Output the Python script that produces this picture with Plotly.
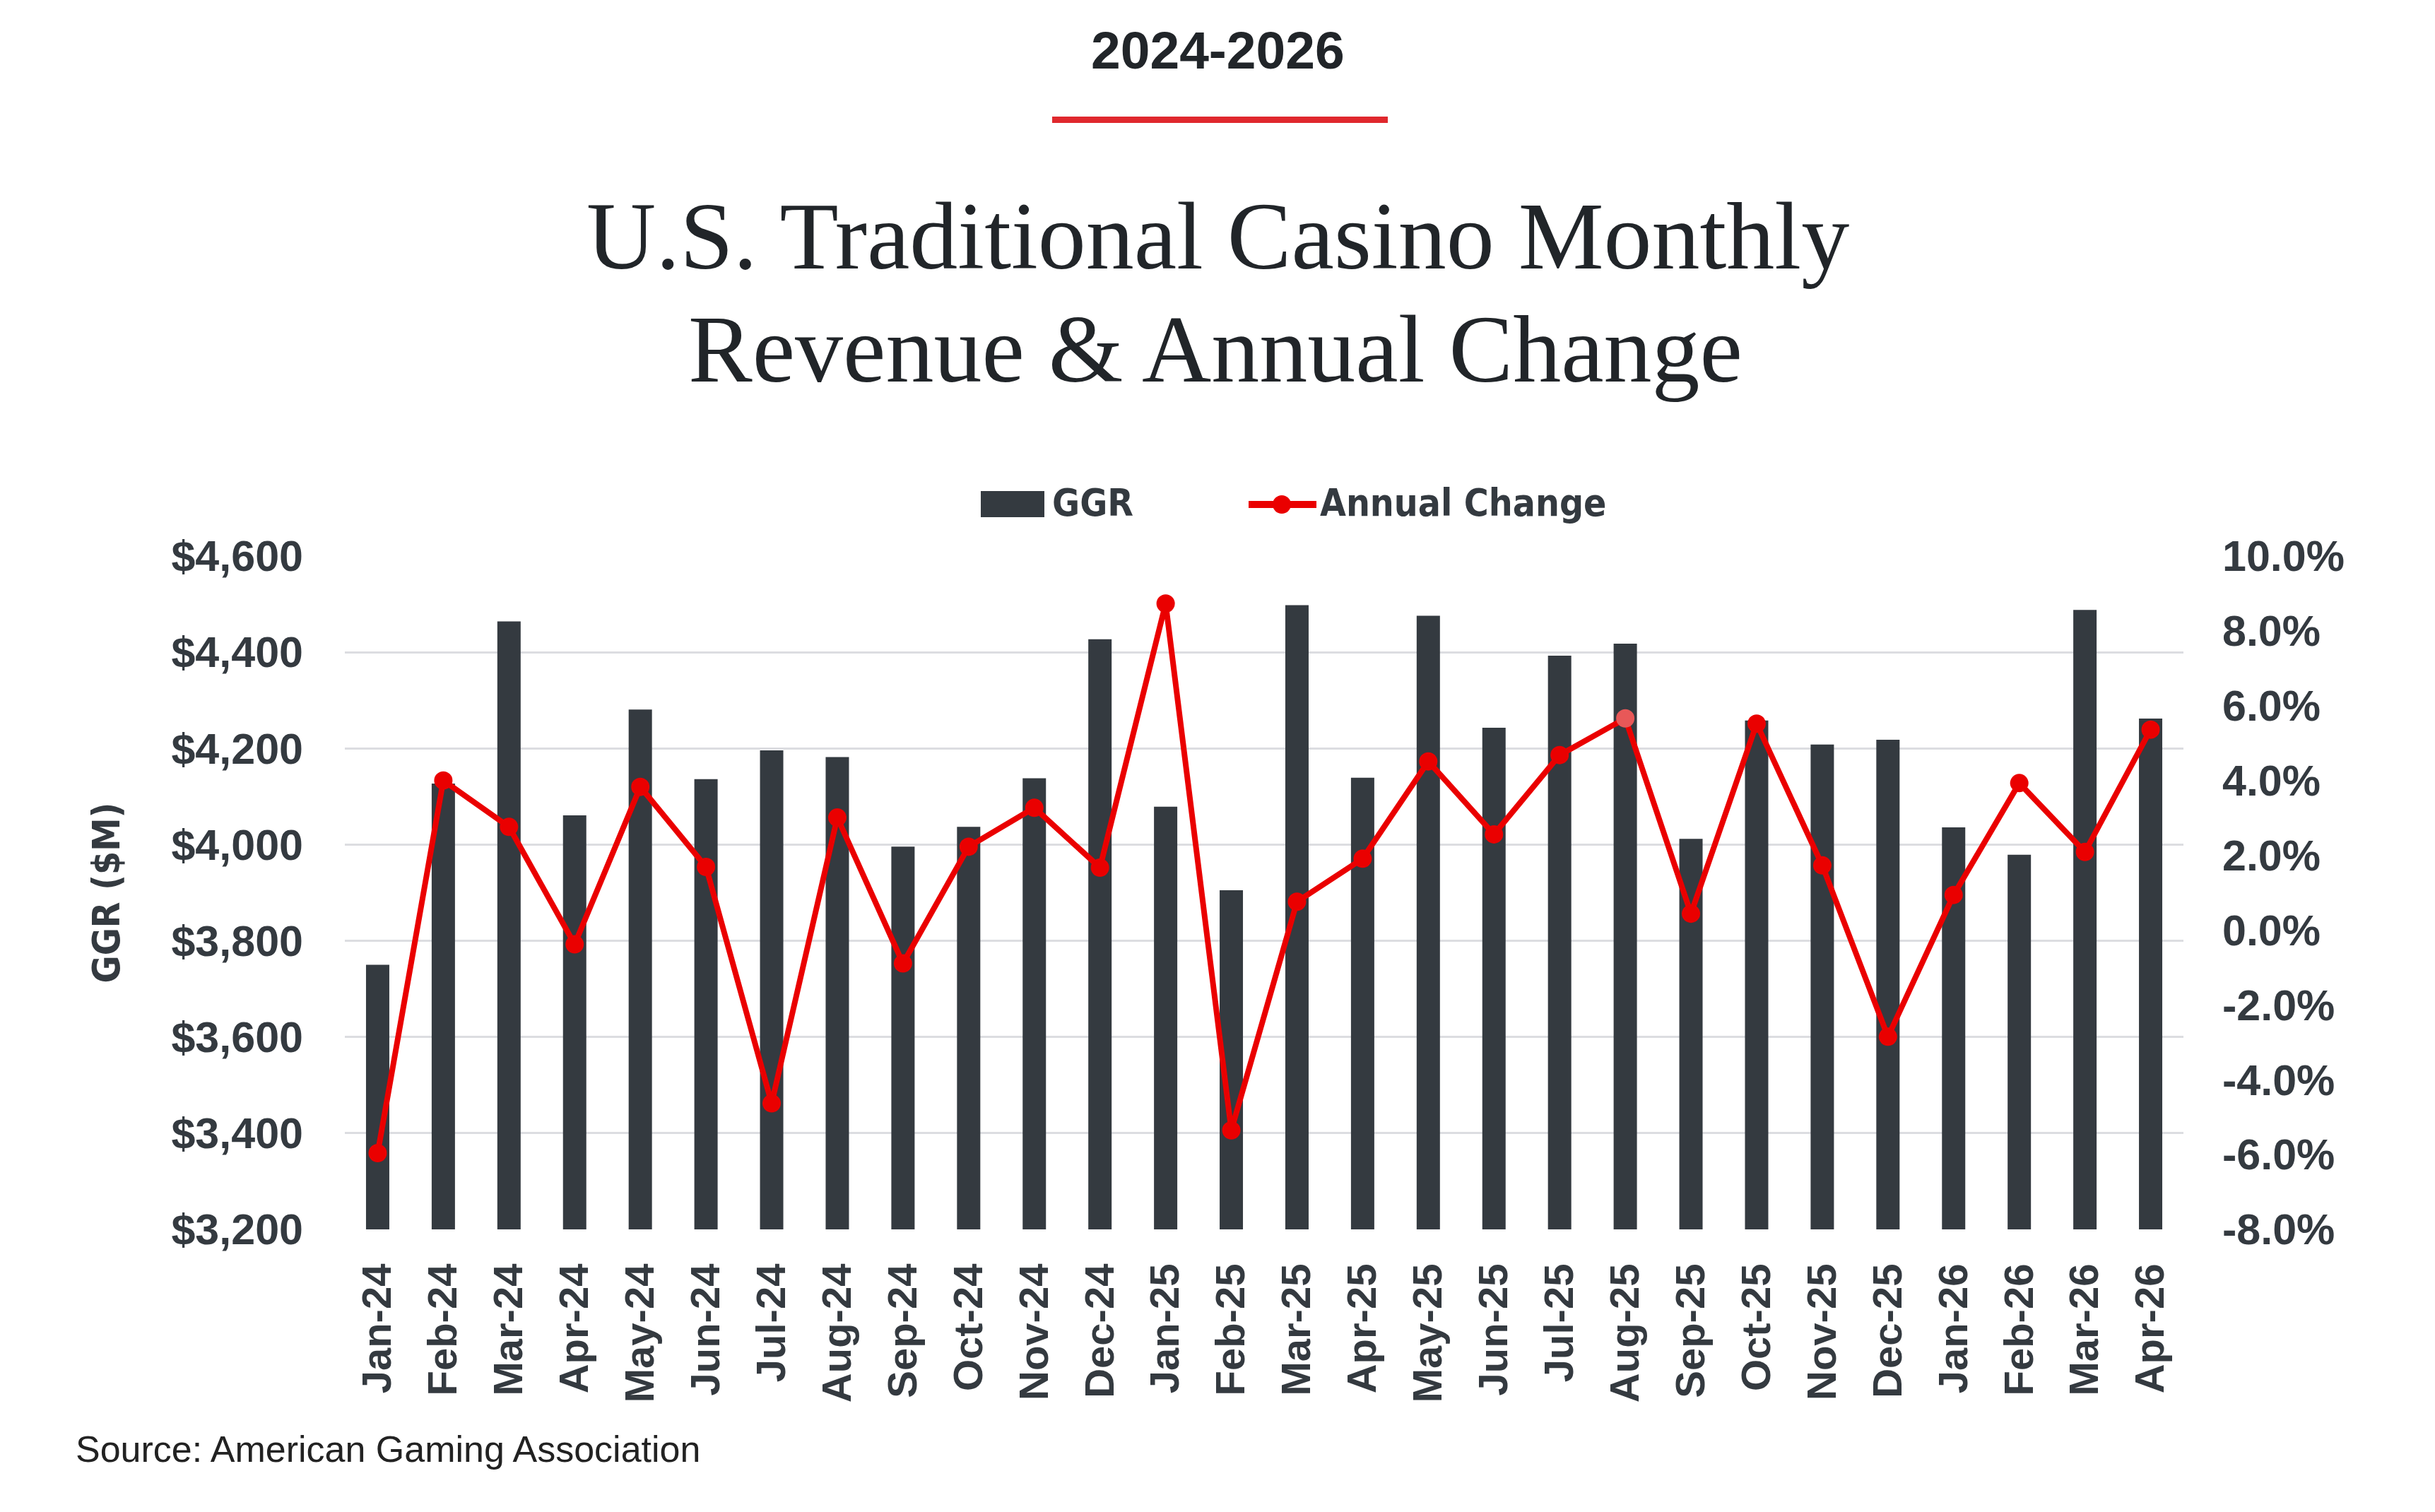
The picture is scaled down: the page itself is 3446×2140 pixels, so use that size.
import plotly.graph_objects as go

# ---------------- data ----------------
months = ["Jan-24", "Feb-24", "Mar-24", "Apr-24", "May-24", "Jun-24", "Jul-24",
          "Aug-24", "Sep-24", "Oct-24", "Nov-24", "Dec-24", "Jan-25", "Feb-25",
          "Mar-25", "Apr-25", "May-25", "Jun-25", "Jul-25", "Aug-25", "Sep-25",
          "Oct-25", "Nov-25", "Dec-25", "Jan-26", "Feb-26", "Mar-26", "Apr-26"]
ggr = [3750, 4127, 4464, 4061, 4281, 4136, 4196, 4182, 3996, 4037, 4138, 4427,
       4079, 3905, 4498, 4139, 4476, 4243, 4393, 4418, 4012, 4258, 4208, 4218,
       4036, 3979, 4488, 4262]
annual_change = [-5.96, 4.00, 2.76, -0.38, 3.83, 1.69, -4.63, 3.01, -0.89, 2.23,
                 3.27, 1.67, 8.73, -5.35, 0.76, 1.91, 4.51, 2.56, 4.68, 5.66,
                 0.44, 5.52, 1.73, -2.85, 0.94, 3.93, 2.09, 5.36]
left_tick_vals = [3200, 3400, 3600, 3800, 4000, 4200, 4400, 4600]
left_tick_text = ["$3,200", "$3,400", "$3,600", "$3,800", "$4,000", "$4,200", "$4,400", "$4,600"]
right_tick_vals = [-8, -6, -4, -2, 0, 2, 4, 6, 8, 10]
right_tick_text = ["-8.0%", "-6.0%", "-4.0%", "-2.0%", "0.0%", "2.0%", "4.0%", "6.0%", "8.0%", "10.0%"]

# ---------------- style ----------------
W, H = 3446, 2140
L, R, T, B = 488, 3090, 787, 1740
BAR = "#343a40"
RED = "#EA0000"
TXT = "#343a40"
GRID = "#dcdde1"
SANS = "Liberation Sans, Arial, sans-serif"
NARROW = "Liberation Sans Narrow, DejaVu Sans Condensed, Liberation Sans, sans-serif"
SERIF = "Liberation Serif, Times New Roman, serif"


def px(x):
    return (x - L) / (R - L)


def py(y):
    return (B - y) / (B - T)


marker_colors = [RED] * len(months)
marker_colors[months.index("Aug-25")] = "#E85858"

fig = go.Figure()
fig.add_trace(go.Bar(x=months, y=ggr, name="GGR", marker=dict(color=BAR, line=dict(width=0)),
                     yaxis="y"))
fig.add_trace(go.Scatter(x=months, y=annual_change, name="Annual Change", mode="lines+markers",
                         line=dict(color=RED, width=8), cliponaxis=False,
                         marker=dict(color=marker_colors, size=26), yaxis="y2"))

fig.update_layout(
    width=W, height=H, autosize=False,
    margin=dict(l=L, r=W - R, t=T, b=H - B, pad=0, autoexpand=False),
    paper_bgcolor="white", plot_bgcolor="white",
    showlegend=False, bargap=0.645, hovermode=False,
    xaxis=dict(type="category", range=[-0.5, len(months) - 0.5], tickangle=-90,
               showgrid=False, zeroline=False, showline=False, automargin=False,
               tickfont=dict(family=SANS, size=58, color=TXT, weight="bold"),
               ticklabelstandoff=36),
    yaxis=dict(range=[3200, 4600], tickvals=left_tick_vals, ticktext=left_tick_text,
               showgrid=True, gridcolor=GRID, gridwidth=3, zeroline=False, showline=False,
               automargin=False,
               tickfont=dict(family=SANS, size=61, color=TXT, weight="bold"),
               ticklabelstandoff=58,
               title=dict(text="GGR ($M)", standoff=55,
                          font=dict(family=NARROW, size=53, color=TXT, weight="bold"))),
    yaxis2=dict(range=[-8, 10], tickvals=right_tick_vals, ticktext=right_tick_text,
                overlaying="y", side="right", showgrid=False, zeroline=False, showline=False,
                automargin=False,
                tickfont=dict(family=SANS, size=61, color=TXT, weight="bold"),
                ticklabelstandoff=54),
)

shapes = []
# red underline below the period heading
shapes.append(dict(type="rect", xref="paper", yref="paper", x0=px(1489), x1=px(1964),
                   y0=py(174), y1=py(165), fillcolor="#E0282D", line=dict(width=0)))
# custom legend
shapes.append(dict(type="rect", xref="paper", yref="paper", x0=px(1388), x1=px(1478),
                   y0=py(732), y1=py(695), fillcolor=BAR, line=dict(width=0)))
shapes.append(dict(type="line", xref="paper", yref="paper", x0=px(1767), x1=px(1863),
                   y0=py(714), y1=py(714), line=dict(color=RED, width=10)))
shapes.append(dict(type="circle", xref="paper", yref="paper", x0=px(1801), x1=px(1827),
                   y0=py(727), y1=py(701), fillcolor=RED, line=dict(width=0)))
fig.update_layout(shapes=shapes)

ann = []
ann.append(dict(text="<b>2024-2026</b>", x=px(1723), y=py(71), xref="paper", yref="paper",
                xanchor="center", yanchor="middle", showarrow=False,
                font=dict(family=SANS, size=75, color="#212529")))
ann.append(dict(text="U.S. Traditional Casino Monthly", x=px(1723), y=py(334), xref="paper",
                yref="paper", xanchor="center", yanchor="middle", showarrow=False,
                font=dict(family=SERIF, size=136, color="#212529")))
ann.append(dict(text="Revenue &amp; Annual Change", x=px(1720), y=py(494), xref="paper",
                yref="paper", xanchor="center", yanchor="middle", showarrow=False,
                font=dict(family=SERIF, size=136, color="#212529")))
ann.append(dict(text="<b>GGR</b>", x=px(1487), y=py(712), xref="paper", yref="paper",
                xanchor="left", yanchor="middle", showarrow=False,
                font=dict(family=NARROW, size=53, color=TXT)))
ann.append(dict(text="<b>Annual Change</b>", x=px(1866), y=py(712), xref="paper", yref="paper",
                xanchor="left", yanchor="middle", showarrow=False,
                font=dict(family=NARROW, size=53, color=TXT)))
ann.append(dict(text="Source: American Gaming Association", x=px(105), y=py(2051),
                xref="paper", yref="paper", xanchor="left", yanchor="middle", showarrow=False,
                font=dict(family=SANS, size=52, color="#222222")))
fig.update_layout(annotations=ann)

fig.write_html("out.html")
